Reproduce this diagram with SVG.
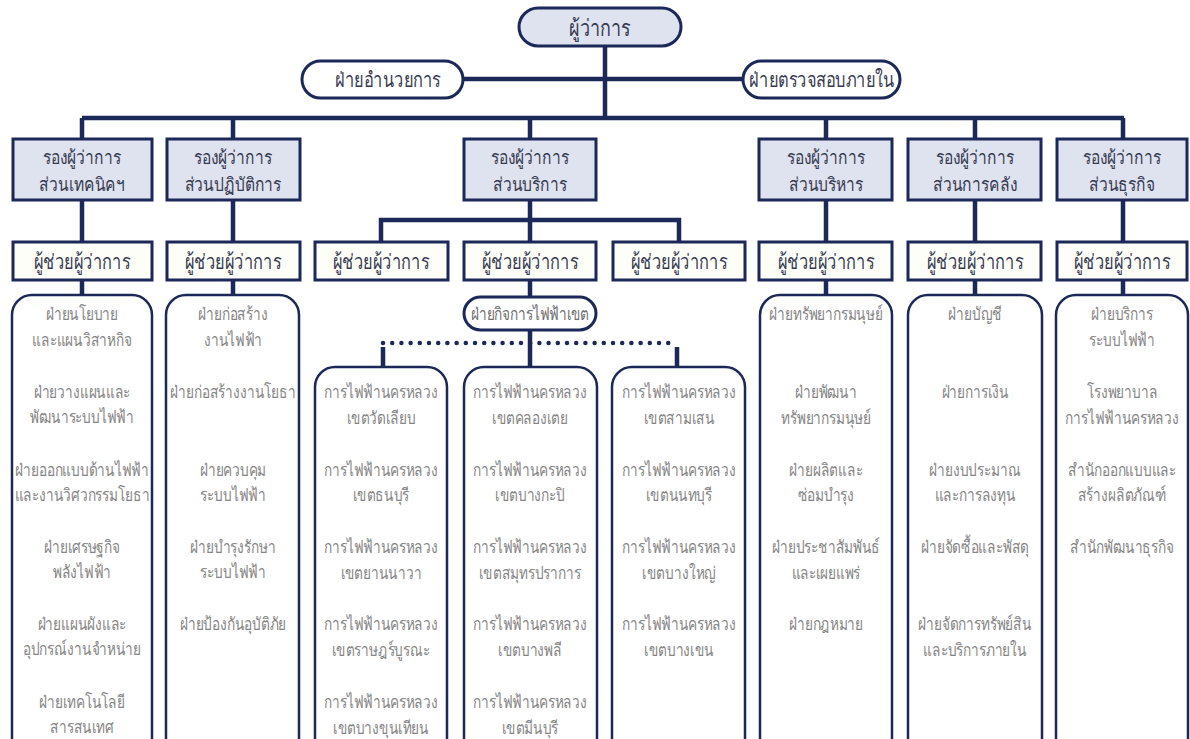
<svg xmlns="http://www.w3.org/2000/svg" width="1190" height="739" viewBox="0 0 1190 739">
<style>
.bg{fill:#ffffff}
.dep{fill:#dfe2ef;stroke:#1b2858;stroke-width:3}
.ast{fill:#fefef9;stroke:#1b2858;stroke-width:3}
.col{fill:#ffffff;stroke:#1b2858;stroke-width:2.5}
.pill{fill:#ffffff;stroke:#1b2858;stroke-width:3}
.top{fill:#dfe2ef;stroke:#1b2858;stroke-width:3}
text{font-family:"Noto Sans","DejaVu Sans",sans-serif;text-anchor:middle;dominant-baseline:central}
.l{font-size:21px;fill:#363a50}
.d{font-size:19px;fill:#363a50}
.t{font-size:17.5px;fill:#858585}
.ln{stroke:#1b2858;stroke-width:4.5;fill:none}
.dot{stroke:#1b2858;stroke-width:4.5;fill:none;stroke-dasharray:0 9.2;stroke-linecap:round}
</style>
<rect class="bg" x="0" y="0" width="1190" height="739"/>
<g id="connectors">
<path class="ln" d="M605,46 V118 M463,79 H743 M82,118 H1124"/>
<path class="ln" d="M82,118 V139 M233,118 V139 M530,118 V139 M826,118 V139 M975,118 V139 M1123,118 V139"/>
<path class="ln" d="M82,200 V242 M233,200 V242 M826,200 V242 M975,200 V242 M1123,200 V242"/>
<path class="ln" d="M530,200 V220 M381,242 V220 H679 V242 M530,220 V242"/>
<path class="ln" d="M82,280 V295 M233,280 V295 M826,280 V295 M975,280 V295 M1123,280 V295 M530,280 V297"/>
<path class="ln" d="M530,330 V367 M383,347 V367 M677,347 V367"/>
<path class="dot" d="M383,343 H677"/>
</g>
<g id="n-governor"><rect class="top" x="519" y="8" width="162" height="38" rx="19"/><g transform="translate(600,27) scale(0.78,1)"><text class="l" x="0" y="0" style="font-size:23px">ผู้ว่าการ</text></g></g>
<g id="n-admin"><rect class="pill" x="302" y="61" width="161" height="37" rx="18.5"/><g transform="translate(388,79) scale(0.78,1)"><text class="l" x="0" y="0">ฝ่ายอำนวยการ</text></g></g>
<g id="n-audit"><rect class="pill" x="743" y="61" width="157" height="37" rx="18.5"/><g transform="translate(822,79) scale(0.78,1)"><text class="l" x="0" y="0">ฝ่ายตรวจสอบภายใน</text></g></g>

<g id="n-dep1"><rect class="dep" x="13" y="139" width="139" height="61"/><g transform="translate(82,0) scale(0.82,1)"><text class="d" x="0" y="156">รองผู้ว่าการ</text><text class="d" x="0" y="183">ส่วนเทคนิคฯ</text></g></g>
<g id="n-dep2"><rect class="dep" x="167" y="139" width="133" height="61"/><g transform="translate(233,0) scale(0.82,1)"><text class="d" x="0" y="156">รองผู้ว่าการ</text><text class="d" x="0" y="183">ส่วนปฏิบัติการ</text></g></g>
<g id="n-dep3"><rect class="dep" x="464" y="139" width="132" height="61"/><g transform="translate(530,0) scale(0.82,1)"><text class="d" x="0" y="156">รองผู้ว่าการ</text><text class="d" x="0" y="183">ส่วนบริการ</text></g></g>
<g id="n-dep4"><rect class="dep" x="759" y="139" width="133" height="61"/><g transform="translate(826,0) scale(0.82,1)"><text class="d" x="0" y="156">รองผู้ว่าการ</text><text class="d" x="0" y="183">ส่วนบริหาร</text></g></g>
<g id="n-dep5"><rect class="dep" x="908" y="139" width="133" height="61"/><g transform="translate(975,0) scale(0.82,1)"><text class="d" x="0" y="156">รองผู้ว่าการ</text><text class="d" x="0" y="183">ส่วนการคลัง</text></g></g>
<g id="n-dep6"><rect class="dep" x="1057" y="139" width="130" height="61"/><g transform="translate(1122,0) scale(0.82,1)"><text class="d" x="0" y="156">รองผู้ว่าการ</text><text class="d" x="0" y="183">ส่วนธุรกิจ</text></g></g>

<g id="n-ast1"><rect class="ast" x="13" y="242" width="139" height="38"/><g transform="translate(82,0) scale(0.78,1)"><text class="l" x="0" y="261">ผู้ช่วยผู้ว่าการ</text></g></g>
<g id="n-ast2"><rect class="ast" x="167" y="242" width="133" height="38"/><g transform="translate(233,0) scale(0.78,1)"><text class="l" x="0" y="261">ผู้ช่วยผู้ว่าการ</text></g></g>
<g id="n-ast3a"><rect class="ast" x="315" y="242" width="133" height="38"/><g transform="translate(381,0) scale(0.78,1)"><text class="l" x="0" y="261">ผู้ช่วยผู้ว่าการ</text></g></g>
<g id="n-ast3b"><rect class="ast" x="464" y="242" width="132" height="38"/><g transform="translate(530,0) scale(0.78,1)"><text class="l" x="0" y="261">ผู้ช่วยผู้ว่าการ</text></g></g>
<g id="n-ast3c"><rect class="ast" x="613" y="242" width="132" height="38"/><g transform="translate(679,0) scale(0.78,1)"><text class="l" x="0" y="261">ผู้ช่วยผู้ว่าการ</text></g></g>
<g id="n-ast4"><rect class="ast" x="759" y="242" width="133" height="38"/><g transform="translate(826,0) scale(0.78,1)"><text class="l" x="0" y="261">ผู้ช่วยผู้ว่าการ</text></g></g>
<g id="n-ast5"><rect class="ast" x="908" y="242" width="133" height="38"/><g transform="translate(975,0) scale(0.78,1)"><text class="l" x="0" y="261">ผู้ช่วยผู้ว่าการ</text></g></g>
<g id="n-ast6"><rect class="ast" x="1057" y="242" width="130" height="38"/><g transform="translate(1122,0) scale(0.78,1)"><text class="l" x="0" y="261">ผู้ช่วยผู้ว่าการ</text></g></g>

<g id="n-col1"><rect class="col" x="12" y="295" width="140" height="500" rx="20"/><g transform="translate(82,0) scale(0.78,1)">
<text class="t" x="0" y="313">ฝ่ายนโยบาย</text><text class="t" x="0" y="339">และแผนวิสาหกิจ</text>
<text class="t" x="0" y="391">ฝ่ายวางแผนและ</text><text class="t" x="0" y="416">พัฒนาระบบไฟฟ้า</text>
<text class="t" x="0" y="469">ฝ่ายออกแบบด้านไฟฟ้า</text><text class="t" x="0" y="494">และงานวิศวกรรมโยธา</text>
<text class="t" x="0" y="546">ฝ่ายเศรษฐกิจ</text><text class="t" x="0" y="571">พลังไฟฟ้า</text>
<text class="t" x="0" y="623">ฝ่ายแผนผังและ</text><text class="t" x="0" y="648">อุปกรณ์งานจำหน่าย</text>
<text class="t" x="0" y="701">ฝ่ายเทคโนโลยี</text><text class="t" x="0" y="726">สารสนเทศ</text>
</g></g>
<g id="n-col2"><rect class="col" x="166" y="295" width="133" height="500" rx="20"/><g transform="translate(233,0) scale(0.78,1)">
<text class="t" x="0" y="313">ฝ่ายก่อสร้าง</text><text class="t" x="0" y="339">งานไฟฟ้า</text>
<text class="t" x="0" y="391">ฝ่ายก่อสร้างงานโยธา</text>
<text class="t" x="0" y="469">ฝ่ายควบคุม</text><text class="t" x="0" y="494">ระบบไฟฟ้า</text>
<text class="t" x="0" y="546">ฝ่ายบำรุงรักษา</text><text class="t" x="0" y="571">ระบบไฟฟ้า</text>
<text class="t" x="0" y="623">ฝ่ายป้องกันอุบัติภัย</text>
</g></g>
<g id="n-zone"><rect class="pill" x="464" y="297" width="132" height="33" rx="16.5"/><g transform="translate(530,313) scale(0.78,1)"><text class="t" x="0" y="0" style="fill:#6e6e6e">ฝ่ายกิจการไฟฟ้าเขต</text></g></g>
<g id="n-d1"><rect class="col" x="315" y="367" width="132" height="450" rx="20"/><g transform="translate(381,0) scale(0.78,1)">
<text class="t" x="0" y="391">การไฟฟ้านครหลวง</text><text class="t" x="0" y="417">เขตวัดเลียบ</text>
<text class="t" x="0" y="469">การไฟฟ้านครหลวง</text><text class="t" x="0" y="494">เขตธนบุรี</text>
<text class="t" x="0" y="546">การไฟฟ้านครหลวง</text><text class="t" x="0" y="572">เขตยานนาวา</text>
<text class="t" x="0" y="623">การไฟฟ้านครหลวง</text><text class="t" x="0" y="649">เขตราษฎร์บูรณะ</text>
<text class="t" x="0" y="701">การไฟฟ้านครหลวง</text><text class="t" x="0" y="727">เขตบางขุนเทียน</text>
</g></g>
<g id="n-d2"><rect class="col" x="464" y="367" width="133" height="450" rx="20"/><g transform="translate(530,0) scale(0.78,1)">
<text class="t" x="0" y="391">การไฟฟ้านครหลวง</text><text class="t" x="0" y="417">เขตคลองเตย</text>
<text class="t" x="0" y="469">การไฟฟ้านครหลวง</text><text class="t" x="0" y="494">เขตบางกะปิ</text>
<text class="t" x="0" y="546">การไฟฟ้านครหลวง</text><text class="t" x="0" y="572">เขตสมุทรปราการ</text>
<text class="t" x="0" y="623">การไฟฟ้านครหลวง</text><text class="t" x="0" y="649">เขตบางพลี</text>
<text class="t" x="0" y="701">การไฟฟ้านครหลวง</text><text class="t" x="0" y="727">เขตมีนบุรี</text>
</g></g>
<g id="n-d3"><rect class="col" x="612" y="367" width="133" height="450" rx="20"/><g transform="translate(679,0) scale(0.78,1)">
<text class="t" x="0" y="391">การไฟฟ้านครหลวง</text><text class="t" x="0" y="417">เขตสามเสน</text>
<text class="t" x="0" y="469">การไฟฟ้านครหลวง</text><text class="t" x="0" y="494">เขตนนทบุรี</text>
<text class="t" x="0" y="546">การไฟฟ้านครหลวง</text><text class="t" x="0" y="572">เขตบางใหญ่</text>
<text class="t" x="0" y="623">การไฟฟ้านครหลวง</text><text class="t" x="0" y="649">เขตบางเขน</text>
</g></g>
<g id="n-col4"><rect class="col" x="760" y="295" width="132" height="500" rx="20"/><g transform="translate(826,0) scale(0.78,1)">
<text class="t" x="0" y="313">ฝ่ายทรัพยากรมนุษย์</text>
<text class="t" x="0" y="391">ฝ่ายพัฒนา</text><text class="t" x="0" y="417">ทรัพยากรมนุษย์</text>
<text class="t" x="0" y="469">ฝ่ายผลิตและ</text><text class="t" x="0" y="494">ซ่อมบำรุง</text>
<text class="t" x="0" y="546">ฝ่ายประชาสัมพันธ์</text><text class="t" x="0" y="572">และเผยแพร่</text>
<text class="t" x="0" y="623">ฝ่ายกฎหมาย</text>
</g></g>
<g id="n-col5"><rect class="col" x="908" y="295" width="134" height="500" rx="20"/><g transform="translate(975,0) scale(0.78,1)">
<text class="t" x="0" y="313">ฝ่ายบัญชี</text>
<text class="t" x="0" y="391">ฝ่ายการเงิน</text>
<text class="t" x="0" y="469">ฝ่ายงบประมาณ</text><text class="t" x="0" y="494">และการลงทุน</text>
<text class="t" x="0" y="546">ฝ่ายจัดซื้อและพัสดุ</text>
<text class="t" x="0" y="623">ฝ่ายจัดการทรัพย์สิน</text><text class="t" x="0" y="649">และบริการภายใน</text>
</g></g>
<g id="n-col6"><rect class="col" x="1056" y="295" width="132" height="500" rx="20"/><g transform="translate(1122,0) scale(0.78,1)">
<text class="t" x="0" y="313">ฝ่ายบริการ</text><text class="t" x="0" y="339">ระบบไฟฟ้า</text>
<text class="t" x="0" y="391">โรงพยาบาล</text><text class="t" x="0" y="417">การไฟฟ้านครหลวง</text>
<text class="t" x="0" y="469">สำนักออกแบบและ</text><text class="t" x="0" y="494">สร้างผลิตภัณฑ์</text>
<text class="t" x="0" y="546">สำนักพัฒนาธุรกิจ</text>
</g></g>
</svg>
